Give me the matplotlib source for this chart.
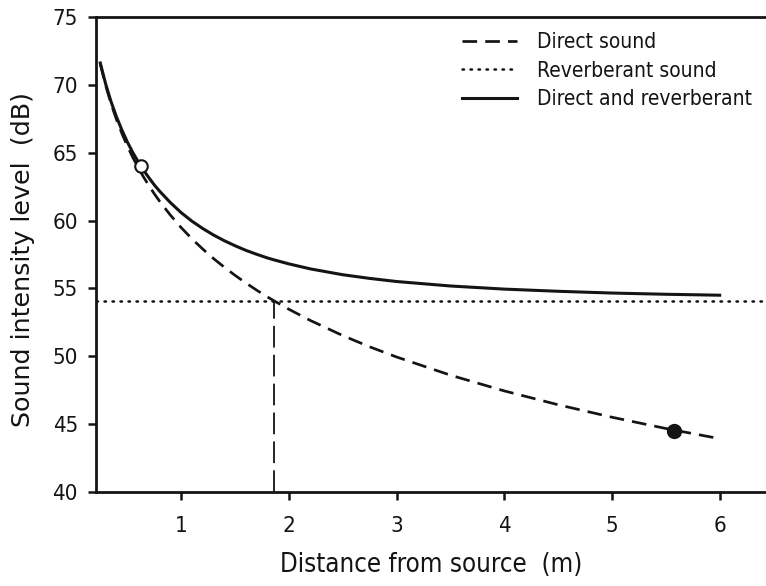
import matplotlib
matplotlib.use("Agg")
import matplotlib.pyplot as plt

plt.rcParams['font.family'] = ['DejaVu Sans']

# distances (m)
distance = [0.25, 0.3, 0.35, 0.4, 0.45, 0.5, 0.55, 0.6, 0.65, 0.7, 0.75, 0.8,
            0.9, 1.0, 1.1, 1.2, 1.3, 1.4, 1.5, 1.6, 1.7, 1.8, 1.86, 2.0, 2.2,
            2.5, 2.75, 3.0, 3.5, 4.0, 4.5, 5.0, 5.5, 6.0]
# direct sound level (dB)
direct = [71.53, 69.95, 68.61, 67.45, 66.43, 65.51, 64.68, 63.93, 63.23, 62.59,
          61.99, 61.43, 60.41, 59.49, 58.66, 57.91, 57.21, 56.57, 55.97, 55.41,
          54.88, 54.38, 54.10, 53.47, 52.64, 51.53, 50.70, 49.95, 48.61, 47.45,
          46.43, 45.51, 44.68, 43.93]
# direct + reverberant (dB)
total = [71.61, 70.06, 68.76, 67.65, 66.68, 65.81, 65.04, 64.36, 63.73, 63.17,
         62.64, 62.17, 61.33, 60.59, 59.96, 59.42, 58.94, 58.52, 58.15, 57.81,
         57.52, 57.25, 57.11, 56.81, 56.44, 56.01, 55.74, 55.51, 55.18, 54.95,
         54.79, 54.66, 54.57, 54.50]
reverb_level = 54.1
critical_distance = 1.86
open_pt = (0.626, 64.0)
filled_pt = (5.58, 44.5)

legend_labels = ["Direct sound", "Reverberant sound", "Direct and reverberant"]
x_ticks = [1, 2, 3, 4, 5, 6]
y_ticks = [40, 45, 50, 55, 60, 65, 70, 75]

ink = '#141414'
cond = dict(family='DejaVu Sans', stretch='condensed')

fig = plt.figure(figsize=(7.66, 5.86), dpi=100)
ax = fig.add_axes([0.1253, 0.1604, 0.8747, 0.8106])

ax.plot(distance, direct, color=ink, lw=1.95, dashes=(5.4, 3.0),
        label=legend_labels[0], zorder=3)
ax.axhline(reverb_level, color=ink, lw=1.8, ls=(0, (0.6, 2.6)),
           dash_capstyle='round', label=legend_labels[1], zorder=2)
ax.plot(distance, total, color=ink, lw=2.2, label=legend_labels[2],
        zorder=3)
ax.plot([critical_distance, critical_distance], [40, reverb_level],
        color=ink, lw=1.3, dashes=(12, 4), zorder=2)
ax.plot([open_pt[0]], [open_pt[1]], 'o', ms=9, mfc='white', mec=ink,
        mew=1.5, zorder=4)
ax.plot([filled_pt[0]], [filled_pt[1]], 'o', ms=10, mfc=ink,
        mec=ink, zorder=4)

ax.set_xlim(0.21, 6.43)
ax.set_ylim(40, 75)
ax.set_xticks(x_ticks)
ax.set_yticks(y_ticks)
ax.spines['right'].set_visible(False)
for s in ['left', 'bottom', 'top']:
    ax.spines[s].set_linewidth(2.0)
    ax.spines[s].set_color(ink)
ax.tick_params(axis='both', length=6, width=1.8, color=ink,
               labelsize=16, labelcolor=ink)
ax.tick_params(axis='x', pad=11)
ax.tick_params(axis='y', pad=7)
for lab in ax.get_xticklabels() + ax.get_yticklabels():
    lab.set_fontstretch('condensed')

ax.set_xlabel("Distance from source  (m)", fontsize=18.5, color=ink,
              labelpad=12, **cond)
ax.set_ylabel("Sound intensity level  (dB)", fontsize=18.3, color=ink)
ax.yaxis.set_label_coords(-0.091, 0.49)

leg = ax.legend(loc='upper right', frameon=False,
                prop=dict(size=15, **cond),
                handlelength=2.64, handletextpad=0.96, labelspacing=0.4,
                borderaxespad=0.0, bbox_to_anchor=(0.991, 0.985))
for t in leg.get_texts():
    t.set_color(ink)

fig.savefig("out.png", dpi=100)
